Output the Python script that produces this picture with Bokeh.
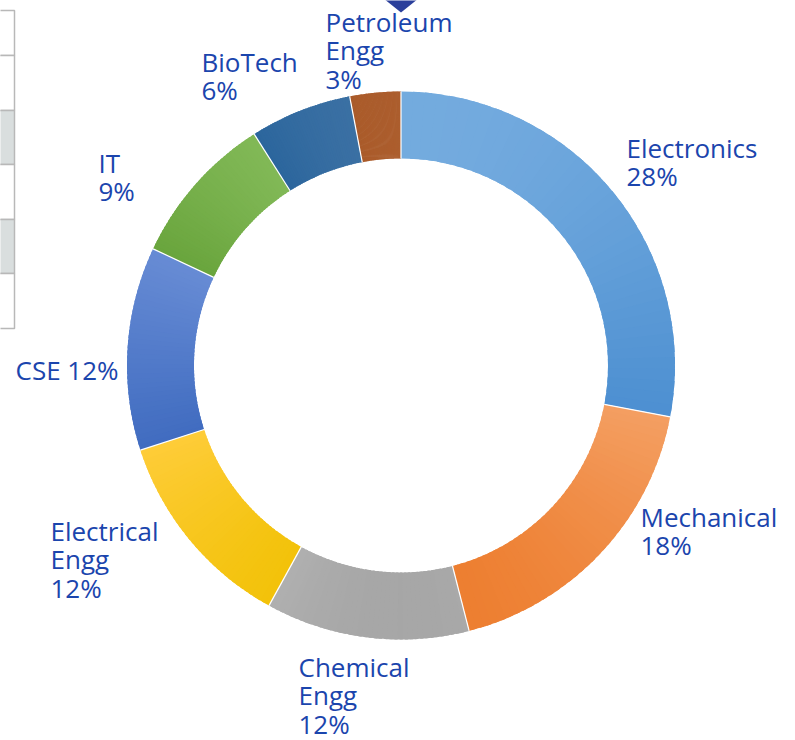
import math
from bokeh.plotting import figure
from bokeh.models import Range1d
from bokeh.core.properties import value
from bokeh.embed import file_html
from bokeh.resources import INLINE

# ---- data ----
categories = ["Electronics", "Mechanical", "Chemical Engg", "Electrical Engg",
              "CSE", "IT", "BioTech", "Petroleum Engg"]
shares = [28, 18, 12, 12, 12, 9, 6, 3]
# gradient colours of each slice (top, bottom)
color_top = ["#78AEE0", "#F4A064", "#B9B9B9", "#FFCD3C",
             "#6A8ED6", "#88BE5E", "#4A7AAA", "#B8714A"]
color_bottom = ["#4C8FD1", "#EC7928", "#9C9C9C", "#F0C000",
                "#3E6ABF", "#66A239", "#1E5D97", "#9E480E"]

# ---- layout (reference pixel coordinates) ----
W, H = 795, 740
CX, CY = 400.5, 365
R_IN, R_OUT = 207, 274
TEXT_COLOR = "#1B45AD"
FONT = "Open Sans"
FONT_SIZE = "26px"
LINE_STEP = 28.5
TEXT_SHIFT = -11
N_SUB = 40

label_lines = {
    "Electronics": ["Electronics", "{p}%"],
    "Mechanical": ["Mechanical", "{p}%"],
    "Chemical Engg": ["Chemical", "Engg", "{p}%"],
    "Electrical Engg": ["Electrical", "Engg", "{p}%"],
    "CSE": ["CSE {p}%"],
    "IT": ["IT", "{p}%"],
    "BioTech": ["BioTech", "{p}%"],
    "Petroleum Engg": ["Petroleum", "Engg", "{p}%"],
}
label_anchor = {
    "Electronics": (626, 158),
    "Mechanical": (640, 527),
    "Chemical Engg": (298, 677),
    "Electrical Engg": (50, 541),
    "CSE": (15, 380),
    "IT": (98, 173),
    "BioTech": (201, 72),
    "Petroleum Engg": (325, 32),
}


def yd(ypix):
    return H - ypix


def hex2rgb(h):
    h = h.lstrip("#")
    return tuple(int(h[i:i + 2], 16) for i in (0, 2, 4))


def mix(c1, c2, t):
    a, b = hex2rgb(c1), hex2rgb(c2)
    return "#%02x%02x%02x" % tuple(int(round(a[i] + (b[i] - a[i]) * t)) for i in range(3))


p = figure(width=W, height=H, output_backend="svg", toolbar_location=None,
           x_range=Range1d(0, W), y_range=Range1d(0, H),
           min_border=0, outline_line_color=None)
p.axis.visible = False
p.grid.visible = False
p.background_fill_color = "white"
p.border_fill_color = "white"

# ---- partial table at the left edge ----
row_edges = [10, 55, 110, 164, 219, 273, 328]
row_fill = ["white", "white", "#D9DEDE", "white", "#D9DEDE", "white"]
p.quad(left=[-40] * 6, right=[14] * 6,
       top=[yd(v) for v in row_edges[:-1]], bottom=[yd(v) for v in row_edges[1:]],
       fill_color=row_fill, line_color="#B8B8B8", line_width=1.5)

# ---- donut (each slice with a vertical gradient) ----
total = sum(shares)
cum = 0.0
ss, se, sc = [], [], []
bx0, by0, bx1, by1 = [], [], [], []
for s, ct, cb in zip(shares, color_top, color_bottom):
    a0 = math.pi / 2 - 2 * math.pi * cum / total
    cum += s
    a1 = math.pi / 2 - 2 * math.pi * cum / total
    ys = []
    for k in range(61):
        a = a0 + (a1 - a0) * k / 60
        ys.append(CY - R_OUT * math.sin(a))
        ys.append(CY - R_IN * math.sin(a))
    ytop, ybot = min(ys), max(ys)
    step = (a1 - a0) / N_SUB  # negative (clockwise)
    for k in range(N_SUB):
        aa = a0 + step * k
        ab = a0 + step * (k + 1)
        am = (aa + ab) / 2
        ym = CY - (R_IN + R_OUT) / 2 * math.sin(am)
        t = (ym - ytop) / max(ybot - ytop, 1e-6)
        t = min(max(t, 0), 1)
        ss.append(aa)
        se.append(ab if k == N_SUB - 1 else ab + step * 0.6)
        sc.append(mix(ct, cb, t))
    bx0.append(CX + R_IN * math.cos(a0))
    by0.append(yd(CY - R_IN * math.sin(a0)))
    bx1.append(CX + R_OUT * math.cos(a0))
    by1.append(yd(CY - R_OUT * math.sin(a0)))

p.annular_wedge(x=CX, y=yd(CY), inner_radius=R_IN, outer_radius=R_OUT,
                start_angle=ss, end_angle=se, direction="clock",
                fill_color=sc, line_color=None)
# white separators between slices
p.segment(x0=bx0, y0=by0, x1=bx1, y1=by1, line_color="white", line_width=1.2)

# ---- small marker at top ----
p.patch(x=[383, 418, 400.5], y=[yd(-2), yd(-2), yd(12)],
        fill_color="#2B3F9B", line_color=None)

# ---- labels ----
tx, ty, tt = [], [], []
for cat, s in zip(categories, shares):
    x0, y0 = label_anchor[cat]
    for i, line in enumerate(label_lines[cat]):
        tx.append(x0)
        ty.append(yd(y0 + i * LINE_STEP + TEXT_SHIFT))
        tt.append(line.format(p=s))
p.text(x=tx, y=ty, text=tt, text_font=value(FONT), text_font_size=FONT_SIZE,
       text_color=TEXT_COLOR, text_align="left", text_baseline="alphabetic")

open("out.html", "w").write(file_html(p, INLINE))
